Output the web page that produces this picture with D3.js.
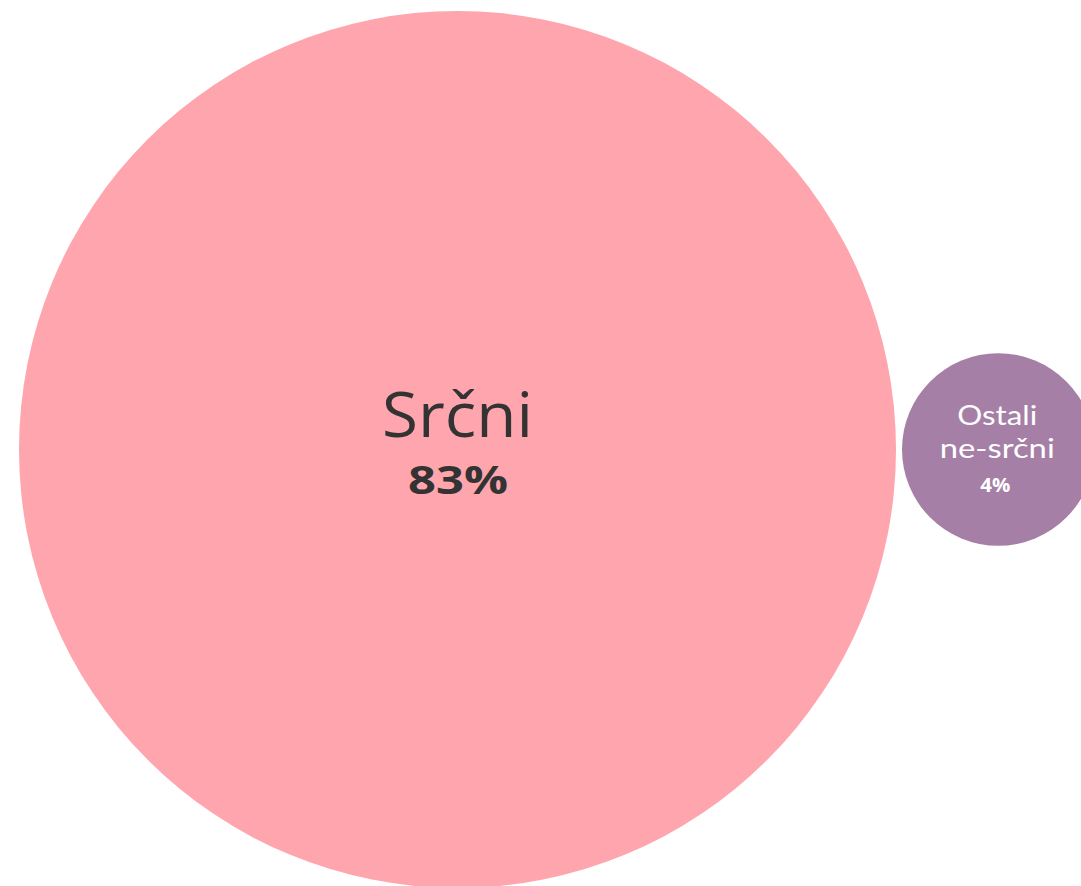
<!DOCTYPE html>
<html>
<head>
<meta charset="utf-8">
<script src="https://cdn.jsdelivr.net/npm/d3@7"></script>
<style>
body{margin:0;background:#fff;overflow:hidden;}
svg{display:block;font-family:"Open Sans",sans-serif;}
</style>
</head>
<body>
<div id="chart"></div>
<script>
// podatki
var kategorije = ["Srčni", "Ostali ne-srčni"];
var vrstice = [["Srčni"], ["Ostali", "ne-srčni"]];
var deleži = [83, 4];
var barve = ["#ffa5ad", "#a67fa7"];

var width = 1081, height = 886;
var cy = 449.5, left = 19, gap = 6;

var r = d3.scaleSqrt().domain([0, d3.max(deleži)]).range([0, 438.5]);

// postavi kroge enega ob drugem
var nodes = [];
var x = left;
for (var i = 0; i < kategorije.length; i++) {
  var rr = r(deleži[i]);
  nodes.push({name: kategorije[i], lines: vrstice[i], value: deleži[i], color: barve[i], x: x + rr, r: rr, big: i == 0});
  x = x + 2 * rr + gap;
}

var svg = d3.select('#chart').append('svg')
  .attr('width', width)
  .attr('height', height);

var g = svg.selectAll('g.bubble')
  .data(nodes)
  .enter()
  .append('g')
  .attr('class', 'bubble')
  .attr('transform', function(d){ return 'translate(' + d.x + ',' + cy + ')'; });

g.append('circle')
  .attr('r', function(d){ return d.r; })
  .attr('fill', function(d){ return d.color; });

// sirine besedil (pisava v izvirniku je sirsa)
var sirine = {"Srčni": 151, "Ostali": 80, "ne-srčni": 115};

// oznake
g.each(function(d){
  var el = d3.select(this);
  if (d.big) {
    el.append('text')
      .attr('text-anchor', 'middle')
      .attr('y', -13)
      .attr('font-size', 62)
      .attr('fill', '#333')
      .attr('textLength', sirine[d.lines[0]])
      .attr('lengthAdjust', 'spacingAndGlyphs')
      .text(d.lines[0]);
    el.append('text')
      .attr('text-anchor', 'middle')
      .attr('x', 0.5)
      .attr('y', 44.5)
      .attr('font-size', 39)
      .attr('font-weight', 'bold')
      .attr('fill', '#333')
      .attr('textLength', 100)
      .attr('lengthAdjust', 'spacingAndGlyphs')
      .text(d3.format('d')(d.value) + '%');
  } else {
    // obe vrstici (Lato ima nizje vrstice, da se ne prekrivata)
    el.selectAll('text.l')
      .data(d.lines)
      .enter()
      .append('text')
      .attr('class', 'l')
      .attr('text-anchor', 'middle')
      .attr('font-family', 'Lato, sans-serif')
      .attr('font-size', 27)
      .attr('fill', '#fff')
      .attr('x', -1)
      .attr('y', function(t, k){ return -24.5 + k * 33; })
      .attr('textLength', function(t){ return sirine[t]; })
      .attr('lengthAdjust', 'spacingAndGlyphs')
      .text(function(t){ return t; });
    el.append('text')
      .attr('text-anchor', 'middle')
      .attr('x', -3)
      .attr('y', 42.5)
      .attr('font-size', 19)
      .attr('font-weight', 'bold')
      .attr('fill', '#fff')
      .attr('textLength', 30)
      .attr('lengthAdjust', 'spacingAndGlyphs')
      .text(d.value + '%');
  }
});
</script>
</body>
</html>
